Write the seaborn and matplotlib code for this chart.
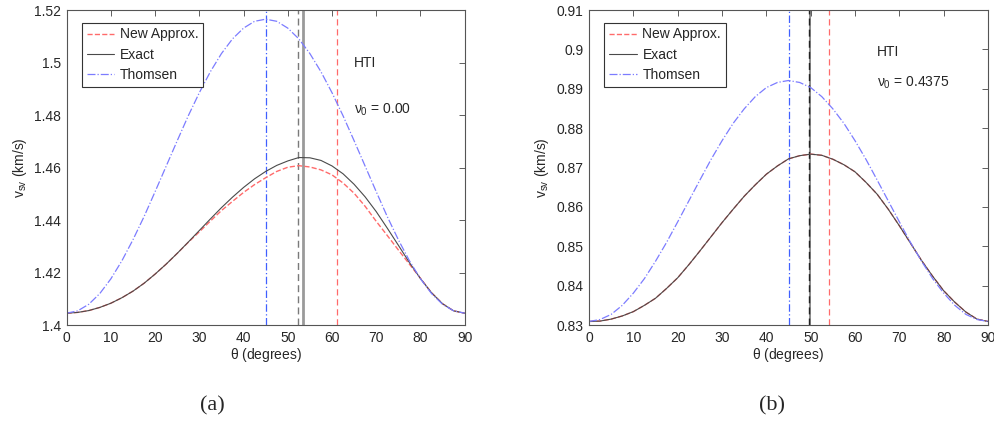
import numpy as np
import pandas as pd
import matplotlib
matplotlib.use("Agg")
import matplotlib.pyplot as plt
from matplotlib.ticker import FuncFormatter
import seaborn as sns

# ---- data (every 2.5 degrees) ----
theta = [0, 2.5, 5, 7.5, 10, 12.5, 15, 17.5, 20, 22.5, 25, 27.5, 30, 32.5, 35, 37.5, 40, 42.5,
         45, 47.5, 50, 52.5, 55, 57.5, 60, 62.5, 65, 67.5, 70, 72.5, 75, 77.5, 80, 82.5, 85, 87.5, 90]

# panel (a): HTI, nu0 = 0.00
a_exact = [1.4045, 1.4048, 1.4055, 1.4067, 1.4083, 1.4104, 1.4129, 1.4159, 1.4194, 1.4232,
           1.4273, 1.4316, 1.4360, 1.4404, 1.4447, 1.4487, 1.4524, 1.4557, 1.4585, 1.4608,
           1.4625, 1.4638, 1.4637, 1.4627, 1.4606, 1.4576, 1.4536, 1.4488, 1.4432, 1.4369,
           1.4304, 1.4238, 1.4177, 1.4123, 1.4081, 1.4054, 1.4045]
a_approx = [1.4045, 1.4048, 1.4055, 1.4067, 1.4083, 1.4104, 1.4129, 1.4159, 1.4194, 1.4232,
            1.4273, 1.4315, 1.4355, 1.4396, 1.4436, 1.4471, 1.4505, 1.4535, 1.4561, 1.4585,
            1.4601, 1.4607, 1.4602, 1.4591, 1.4572, 1.4541, 1.4502, 1.4452, 1.4395, 1.4341,
            1.4286, 1.4232, 1.4178, 1.4123, 1.4081, 1.4054, 1.4045]
a_thomsen = [1.4045, 1.4054, 1.4079, 1.4120, 1.4176, 1.4245, 1.4325, 1.4413, 1.4508, 1.4605,
             1.4702, 1.4797, 1.4885, 1.4965, 1.5034, 1.5090, 1.5131, 1.5157, 1.5165, 1.5157,
             1.5131, 1.5090, 1.5034, 1.4965, 1.4885, 1.4797, 1.4702, 1.4605, 1.4508, 1.4413,
             1.4325, 1.4245, 1.4176, 1.4120, 1.4079, 1.4054, 1.4045]
a_vlines = {"thomsen": 45.0, "approx_peak": 52.2, "exact": 53.5, "approx": 61.2}

# panel (b): HTI, nu0 = 0.4375
b_exact = [0.8309, 0.8310, 0.8315, 0.8323, 0.8334, 0.8350, 0.8368, 0.8393, 0.8420, 0.8453,
           0.8488, 0.8524, 0.8560, 0.8594, 0.8627, 0.8656, 0.8683, 0.8704, 0.8722, 0.8730,
           0.8734, 0.8731, 0.8721, 0.8707, 0.8689, 0.8662, 0.8632, 0.8594, 0.8552, 0.8508,
           0.8464, 0.8424, 0.8387, 0.8358, 0.8333, 0.8315, 0.8309]
b_approx = [0.8309, 0.8310, 0.8315, 0.8323, 0.8334, 0.8350, 0.8368, 0.8393, 0.8420, 0.8453,
            0.8488, 0.8524, 0.8560, 0.8594, 0.8627, 0.8656, 0.8683, 0.8704, 0.8722, 0.8730,
            0.8734, 0.8731, 0.8721, 0.8707, 0.8689, 0.8662, 0.8632, 0.8594, 0.8552, 0.8508,
            0.8464, 0.8424, 0.8387, 0.8358, 0.8333, 0.8315, 0.8309]
b_thomsen = [0.8309, 0.8314, 0.8327, 0.8350, 0.8381, 0.8418, 0.8462, 0.8510, 0.8562, 0.8615,
             0.8668, 0.8720, 0.8768, 0.8812, 0.8849, 0.8880, 0.8903, 0.8916, 0.8921, 0.8916,
             0.8903, 0.8880, 0.8849, 0.8812, 0.8768, 0.8720, 0.8668, 0.8615, 0.8562, 0.8510,
             0.8462, 0.8418, 0.8381, 0.8350, 0.8327, 0.8314, 0.8309]
b_vlines = {"thomsen": 45.0, "approx_peak": 49.7, "exact": 49.8, "approx": 54.2}

a_yticks = [1.40, 1.42, 1.44, 1.46, 1.48, 1.50, 1.52]
b_yticks = [0.83, 0.84, 0.85, 0.86, 0.87, 0.88, 0.89, 0.90, 0.91]
xticks = [0, 10, 20, 30, 40, 50, 60, 70, 80, 90]

sns.set_style("white")
plt.rcParams["font.family"] = ["Liberation Sans", "DejaVu Sans"]
plt.rcParams["mathtext.fontset"] = "custom"
plt.rcParams["mathtext.rm"] = "Liberation Sans"
plt.rcParams["mathtext.it"] = "Liberation Sans"

C_APPROX = "#ff6b6b"
C_EXACT = "#4a4a4a"
C_THOM = "#7c7cff"

fig = plt.figure(figsize=(9.95, 4.33), dpi=100)
ax_a = fig.add_axes([0.067, 0.2494, 0.400, 0.7275])
ax_b = fig.add_axes([0.592, 0.2494, 0.401, 0.7275])


def draw_panel(ax, exact, approx, thom, vl, yticks, hti_y, nu_text, nu_y, dark_vline):
    df = pd.DataFrame({"theta": theta, "exact": exact, "approx": approx, "thomsen": thom})
    # vertical markers
    ax.axvline(vl["thomsen"], color="#4060ff", lw=0.9, ls="-.", dashes=(6, 2, 1, 2))
    ax.axvline(vl["exact"], color="#9a9a9a" if not dark_vline else "#777777",
               lw=2.0 if not dark_vline else 1.2, ls="-")
    ax.axvline(vl["approx_peak"], color="#7a7a7a" if not dark_vline else "#222222",
               lw=1.0, ls="--", dashes=(5, 3))
    ax.axvline(vl["approx"], color=C_APPROX, lw=0.9, ls="--", dashes=(5, 3))

    sns.lineplot(data=df, x="theta", y="approx", ax=ax, color=C_APPROX, lw=1.0,
                 linestyle="--", dashes=(5, 3), label="New Approx.")
    sns.lineplot(data=df, x="theta", y="exact", ax=ax, color=C_EXACT, lw=0.8,
                 linestyle="-", label="Exact")
    sns.lineplot(data=df, x="theta", y="thomsen", ax=ax, color=C_THOM, lw=0.9,
                 linestyle="-.", dashes=(6, 2, 1, 2), label="Thomsen")

    ax.set_xlim(0, 90)
    ax.set_ylim(yticks[0], yticks[-1])
    ax.set_xticks(xticks)
    ax.set_yticks(yticks)
    ax.yaxis.set_major_formatter(FuncFormatter(lambda v, p: "{:g}".format(round(v, 4))))
    ax.tick_params(direction="in", length=4, width=0.6, top=True, right=True,
                   labelsize=10, color="#444444", pad=4)
    for s in ax.spines.values():
        s.set_color("#555555")
        s.set_linewidth(0.8)
    ax.set_xlabel(r"$\theta$ (degrees)", fontsize=10, labelpad=1)
    ax.set_ylabel(r"v$_{\rm sv}$ (km/s)", fontsize=10, labelpad=4)

    leg = ax.legend(loc="upper left", bbox_to_anchor=(0.038, 0.96), borderaxespad=0,
                    fontsize=10, fancybox=False, edgecolor="#333333", framealpha=1,
                    handlelength=2.0, handletextpad=0.4, labelspacing=0.45,
                    borderpad=0.35)
    leg.get_frame().set_linewidth(0.8)

    ax.text(65, hti_y, "HTI", fontsize=10, va="center", ha="left")
    ax.text(65, nu_y, nu_text, fontsize=10, va="center", ha="left")


draw_panel(ax_a, a_exact, a_approx, a_thomsen, a_vlines, a_yticks,
           1.4998, r"$\nu_0$ = 0.00", 1.4818, False)
draw_panel(ax_b, b_exact, b_approx, b_thomsen, b_vlines, b_yticks,
           0.8993, r"$\nu_0$ = 0.4375", 0.8915, True)

fig.text(0.213, 0.052, "(a)", fontsize=16, family="Liberation Serif", ha="center")
fig.text(0.776, 0.052, "(b)", fontsize=16, family="Liberation Serif", ha="center")

fig.savefig("out.png", dpi=100)
